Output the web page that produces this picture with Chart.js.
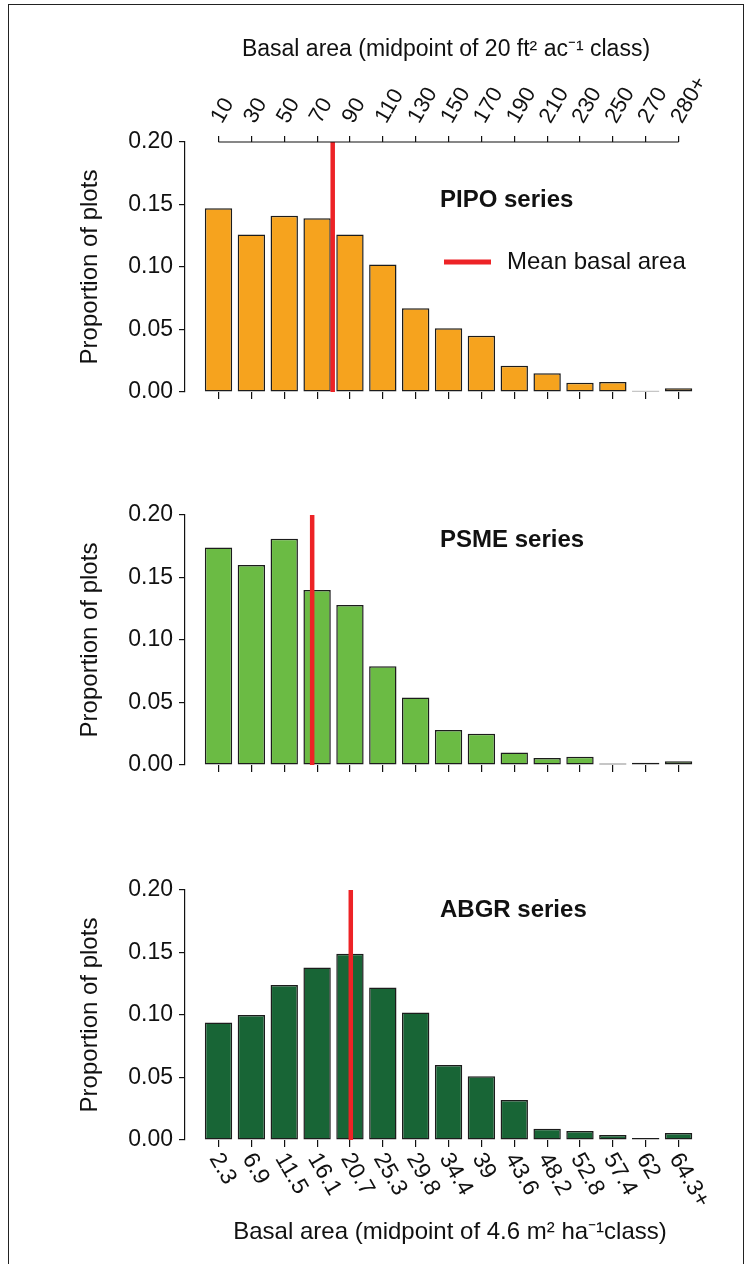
<!DOCTYPE html>
<html>
<head>
<meta charset="utf-8">
<script src="https://cdn.jsdelivr.net/npm/chart.js@4.4.1/dist/chart.umd.min.js"></script>
<style>
  html, body { margin: 0; padding: 0; background: #fff; }
  #page { position: relative; width: 746px; height: 1264px; overflow: hidden; background: #fff; }
  #frame { position: absolute; left: 8px; top: 4px; width: 734px; height: 1320px; border: 1.5px solid #222; }
  canvas { position: absolute; left: 0; }
</style>
</head>
<body>
<div id="page">
  <div id="frame"></div>
  <canvas id="pipo" width="746" height="420" style="top:0px"></canvas>
  <canvas id="psme" width="746" height="370" style="top:420px"></canvas>
  <canvas id="abgr" width="746" height="474" style="top:790px"></canvas>
</div>
<script>
// class midpoints, ft2/ac (top axis) and m2/ha (bottom axis)
const topLabels = ['10', '30', '50', '70', '90', '110', '130', '150', '170', '190', '210', '230', '250', '270', '280+'];
const bottomLabels = ['2.3', '6.9', '11.5', '16.1', '20.7', '25.3', '29.8', '34.4', '39', '43.6', '48.2', '52.8', '57.4', '62', '64.3+'];

// proportion of plots in each basal area class
const pipoValues = [0.147, 0.126, 0.141, 0.139, 0.126, 0.102, 0.067, 0.051, 0.045, 0.021, 0.015, 0.0075, 0.008, 0.001, 0.003];
const psmeValues = [0.174, 0.160, 0.181, 0.140, 0.128, 0.079, 0.054, 0.028, 0.025, 0.010, 0.0056, 0.0067, 0.0013, 0.0019, 0.003];
const abgrValues = [0.094, 0.100, 0.124, 0.138, 0.149, 0.122, 0.102, 0.060, 0.051, 0.032, 0.009, 0.0072, 0.004, 0.0016, 0.0056];

// mean basal area per series, ft2/ac
const meanBasalArea = [79.5, 67, 90.5];

const FONT = '"Liberation Sans", Arial, Helvetica, sans-serif';
const INK = '#111';
const RED = '#ED2326';

Chart.defaults.font.family = FONT;
Chart.defaults.color = INK;

// class index on the x scale
const classIndex = ba => (ba - 10) / 20;

const panelText = {
  id: 'panelText',
  afterDraw(chart, args, opts) {
    const ctx = chart.ctx, area = chart.chartArea;
    ctx.save();
    ctx.fillStyle = INK;
    ctx.textBaseline = 'middle';
    ctx.textAlign = 'left';
    ctx.font = 'bold 24px ' + FONT;
    ctx.fillText(opts.label, 440, area.top + opts.dy);
    if (opts.legend) {
      const y = area.top + 120;
      ctx.strokeStyle = RED;
      ctx.lineWidth = 5;
      ctx.beginPath();
      ctx.moveTo(444, y);
      ctx.lineTo(491, y);
      ctx.stroke();
      ctx.font = '24px ' + FONT;
      ctx.fillText(opts.legend, 507, y);
    }
    // axis titles, centred a little right of the plot area like the original
    ctx.textAlign = 'center';
    if (opts.topTitle) {
      ctx.font = '23px ' + FONT;
      ctx.fillText(opts.topTitle, 446, area.top - 92);
    }
    if (opts.bottomTitle) {
      ctx.font = '24px ' + FONT;
      ctx.fillText(opts.bottomTitle, 450, area.bottom + 92);
    }
    // top axis line runs between first and last tick only
    const x2 = chart.scales.x2;
    if (x2) {
      ctx.strokeStyle = INK;
      ctx.lineWidth = 1.2;
      ctx.beginPath();
      ctx.moveTo(x2.getPixelForValue(0), x2.bottom);
      ctx.lineTo(x2.getPixelForValue(topLabels.length - 1), x2.bottom);
      ctx.stroke();
    }
    ctx.restore();
  }
};

// bottom tick labels slant down to the right
const slantedTicks = {
  id: 'slantedTicks',
  afterDraw(chart, args, opts) {
    if (!opts.labels) return;
    const sc = chart.scales.x, ctx = chart.ctx;
    ctx.save();
    ctx.font = '23px ' + FONT;
    ctx.fillStyle = INK;
    ctx.textAlign = 'left';
    ctx.textBaseline = 'middle';
    opts.labels.forEach((t, i) => {
      ctx.save();
      ctx.translate(sc.getPixelForValue(i) - 4, sc.top + 15);
      ctx.rotate(Math.PI / 3);
      ctx.fillText(t, 0, 0);
      ctx.restore();
    });
    ctx.restore();
  }
};

const classTicks = scale => {
  scale.ticks = topLabels.map((_, i) => ({ value: i }));
};

function buildPanel(id, values, color, label, mean, p) {
  const areaBottom = p.areaTop + 250;
  const canvas = document.getElementById(id);
  const scales = {
    x: {
      type: 'linear',
      min: -1.02,
      max: 14.5,
      offset: false,
      afterBuildTicks: classTicks,
      afterFit: s => { s.height = canvas.height - areaBottom; },
      border: { display: false },
      grid: { offset: false, drawOnChartArea: false, tickLength: 7, color: INK, lineWidth: 1.2 },
      ticks: { display: false }
    },
    y: {
      min: 0,
      max: 0.2,
      afterFit: s => { s.width = 185; },
      border: { display: true, color: INK, width: 1.2 },
      grid: { drawOnChartArea: false, tickLength: 6, color: INK, lineWidth: 1.2 },
      ticks: {
        stepSize: 0.05,
        padding: 6,
        color: INK,
        font: { size: 23 },
        callback: v => v.toFixed(2)
      },
      title: {
        display: true,
        text: 'Proportion of plots',
        font: { size: 24 },
        color: INK,
        padding: { top: 76 }
      }
    }
  };
  if (p.topTitle) {
    scales.x2 = {
      type: 'linear',
      position: 'top',
      min: -1.02,
      max: 14.5,
      offset: false,
      afterBuildTicks: classTicks,
      afterFit: s => { s.height = p.areaTop; },
      border: { display: false },
      grid: { offset: false, drawOnChartArea: false, tickLength: 6, color: INK, lineWidth: 1.2 },
      ticks: {
        autoSkip: false,
        minRotation: 60,
        maxRotation: 60,
        padding: 8,
        labelOffset: 21,
        color: INK,
        font: { size: 22 },
        callback: v => topLabels[v]
      }
    };
  }
  const m = classIndex(mean);
  return new Chart(canvas, {
    data: {
      datasets: [
        {
          type: 'line',
          data: [{ x: m, y: 0 }, { x: m, y: 0.2 }],
          borderColor: RED,
          borderWidth: 4.5,
          pointRadius: 0,
          order: 0
        },
        {
          type: 'bar',
          data: values.map((v, i) => ({ x: i, y: v })),
          backgroundColor: color,
          borderColor: '#1c1c1c',
          borderWidth: 1.5,
          borderSkipped: false,
          categoryPercentage: 1,
          barPercentage: 0.833,
          order: 1
        }
      ]
    },
    options: {
      responsive: false,
      animation: false,
      events: [],
      layout: { padding: { left: 0, right: 51, top: p.topTitle ? 0 : p.areaTop, bottom: 0 } },
      scales: scales,
      plugins: {
        legend: { display: false },
        tooltip: { enabled: false },
        panelText: {
          label: label, dy: p.labelDy, legend: p.legend,
          topTitle: p.topTitle, bottomTitle: p.bottomTitle
        },
        slantedTicks: { labels: p.bottomLabels }
      }
    },
    plugins: [panelText, slantedTicks]
  });
}

buildPanel('pipo', pipoValues, '#F6A31E', 'PIPO series', meanBasalArea[0], {
  areaTop: 142, labelDy: 58, legend: 'Mean basal area',
  topTitle: 'Basal area (midpoint of 20 ft\u00B2 ac\u207B\u00B9 class)'
});
buildPanel('psme', psmeValues, '#6BBB44', 'PSME series', meanBasalArea[1], {
  areaTop: 95, labelDy: 25
});
buildPanel('abgr', abgrValues, '#186536', 'ABGR series', meanBasalArea[2], {
  areaTop: 100, labelDy: 20, bottomLabels: bottomLabels,
  bottomTitle: 'Basal area (midpoint of 4.6 m\u00B2 ha\u207B\u00B9class)'
});
</script>
</body>
</html>
